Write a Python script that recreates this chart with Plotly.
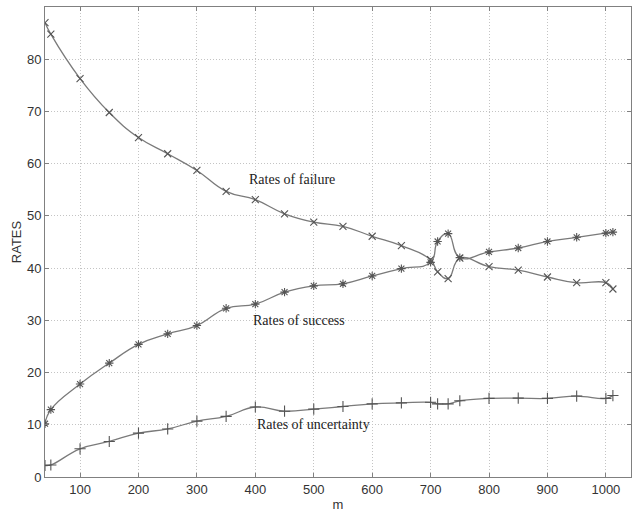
import plotly.graph_objects as go

m = [40, 50, 100, 150, 200, 250, 300, 350, 400, 450, 500, 550, 600, 650,
     700, 712, 730, 750, 800, 850, 900, 950, 1000, 1012]

failure = [87.0, 84.8, 76.3, 69.8, 65.0, 61.9, 58.7, 54.7, 53.1, 50.4, 48.8, 48.0,
           46.1, 44.3, 41.6, 39.3, 38.0, 41.9, 40.3, 39.6, 38.3, 37.2, 37.2, 36.0]

success = [10.2, 12.9, 17.8, 21.8, 25.4, 27.4, 29.0, 32.3, 33.1, 35.4, 36.6, 37.0,
           38.5, 39.9, 41.1, 45.1, 46.6, 42.0, 43.1, 43.85, 45.1, 45.9, 46.7, 46.9]

uncertainty = [2.2, 2.3, 5.4, 6.8, 8.4, 9.2, 10.7, 11.6, 13.4, 12.6, 13.0, 13.5,
               14.0, 14.2, 14.3, 14.0, 14.0, 14.6, 15.05, 15.1, 15.05, 15.5, 15.05, 15.6]

x_ticks = [100, 200, 300, 400, 500, 600, 700, 800, 900, 1000]
y_ticks = [0, 10, 20, 30, 40, 50, 60, 70, 80, 90]

labels = ["Rates of failure", "Rates of success", "Rates of uncertainty"]
label_x = [462, 475, 500]
label_y = [56.9, 30.0, 10.0]

line_color = "#7a7a7a"
marker_color = "#555555"

fig = go.Figure()
for ys, sym, sz in [(failure, "x-thin-open", 7),
                    (success, "asterisk-open", 7),
                    (uncertainty, "cross-thin-open", 8)]:
    fig.add_trace(go.Scatter(
        x=m, y=ys, mode="lines+markers",
        line=dict(color=line_color, width=1.3, shape="spline", smoothing=1.3),
        marker=dict(symbol=sym, size=sz, color=marker_color,
                    line=dict(color=marker_color, width=1.1)),
        showlegend=False, hoverinfo="x+y"))

for t, x, y in zip(labels, label_x, label_y):
    fig.add_annotation(x=x, y=y, text=t, showarrow=False,
                       font=dict(family="Liberation Serif, Times New Roman, serif",
                                 size=14, color="#222222"))

axis_common = dict(
    showline=True, linecolor="#808080", linewidth=1, mirror="ticks",
    ticks="inside", ticklen=4, tickcolor="#808080",
    showgrid=True, gridcolor="#c4c4c4", griddash="1px,2px", gridwidth=1,
    zeroline=False,
    tickfont=dict(family="Liberation Sans, Arial, sans-serif", size=13, color="#333333"),
)

fig.update_xaxes(range=[40, 1043], tickvals=x_ticks,
                 title=dict(text="m", standoff=4,
                            font=dict(family="Liberation Sans, Arial, sans-serif",
                                      size=13, color="#333333")),
                 **axis_common)
fig.update_yaxes(range=[0, 90], tickvals=y_ticks,
                 title=dict(text="RATES", standoff=2,
                            font=dict(family="Liberation Sans, Arial, sans-serif",
                                      size=13, color="#333333")),
                 **axis_common)

fig.update_layout(
    width=632, height=512,
    margin=dict(l=45, r=1, t=7, b=35),
    paper_bgcolor="white", plot_bgcolor="white",
)

fig.write_html("out.html",
               config={"displayModeBar": False},
               post_script="document.body.style.margin='0';document.body.style.overflow='hidden';")
